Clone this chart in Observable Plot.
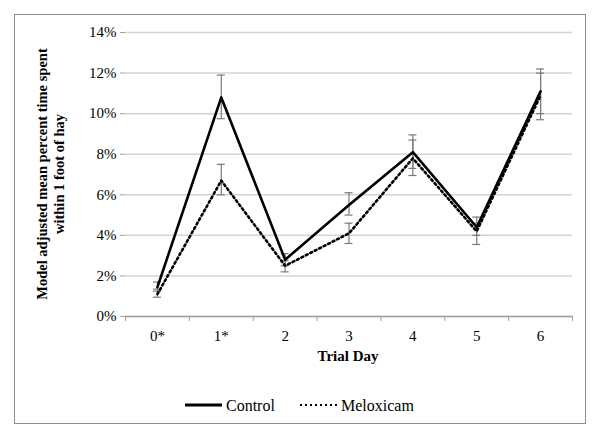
<!DOCTYPE html>
<html><head><meta charset="utf-8">
<script src="https://cdn.jsdelivr.net/npm/d3@7"></script>
<script src="https://cdn.jsdelivr.net/npm/@observablehq/plot@0.6"></script>
<style>
body{margin:0;background:#fff;font-family:serif;}
#wrap{position:relative;width:600px;height:440px;font-family:serif;}
#frame{position:absolute;left:14px;top:14px;width:572px;height:410px;border:1px solid #8c8c8c;box-sizing:border-box;}
#chart{position:absolute;left:0;top:0;}
#legend{position:absolute;left:0;top:388px;}
#ytitle{position:absolute;left:51px;top:174px;transform:translate(-50%,-50%) rotate(-90deg);white-space:nowrap;text-align:center;font-weight:bold;font-size:14.5px;line-height:17px;color:#000;font-family:serif;}
#xtitle{position:absolute;left:348px;top:356px;transform:translate(-50%,-50%);font-weight:bold;font-size:15px;font-family:serif;}
</style></head>
<body>
<div id="wrap">
<div id="frame"></div>
<div id="chart"></div>
<div id="ytitle">Model adjusted mean percent time spent<br>within 1 foot of hay</div>
<div id="xtitle">Trial Day</div>
<div id="legend"></div>
</div>
<script>
const days = ["0*","1*","2","3","4","5","6"];
const control = [1.45, 10.8, 2.8, 5.5, 8.1, 4.4, 11.1];
const controlLow = [1.25, 9.75, 2.5, 5.0, 7.3, 4.0, 10.0];
const controlHigh = [1.7, 11.9, 3.1, 6.1, 8.95, 4.9, 12.2];
const meloxicam = [1.1, 6.7, 2.5, 4.1, 7.8, 4.2, 10.9];
const meloxicamLow = [0.95, 6.0, 2.2, 3.6, 6.95, 3.55, 9.7];
const meloxicamHigh = [1.35, 7.5, 2.75, 4.6, 8.7, 4.6, 12.0];
const yTicks = [0, 2, 4, 6, 8, 10, 12, 14];
const seriesNames = ["Control", "Meloxicam"];

const ctrl = days.map((d, i) => ({i, day: d, v: control[i], lo: controlLow[i], hi: controlHigh[i]}));
const melo = days.map((d, i) => ({i, day: d, v: meloxicam[i], lo: meloxicamLow[i], hi: meloxicamHigh[i]}));
const both = ctrl.concat(melo);
const bounds = d3.range(days.length + 1).map(k => k - 0.5);
const errColor = "#7a7a7a";

const plot = Plot.plot({
  width: 600, height: 380,
  marginLeft: 125, marginRight: 28, marginTop: 32, marginBottom: 64,
  style: "font-family:serif;font-size:15px;background:transparent;color:#000",
  x: {type: "linear", domain: [-0.5, days.length - 0.5]},
  y: {domain: [0, 14]},
  marks: [
    Plot.gridY(yTicks, {stroke: "#d4d4d4", strokeOpacity: 1, strokeWidth: 1.5}),
    Plot.axisY({ticks: yTicks, tickFormat: d => d + "%", tickSize: 5, stroke: "#a0a0a0", tickPadding: 4, label: null, fontSize: 15}),
    Plot.ruleY([0], {stroke: "#a0a0a0", strokeWidth: 1.5}),
    Plot.axisX({ticks: bounds, tickFormat: () => "", tickSize: 5, stroke: "#a0a0a0", label: null}),
    Plot.axisX({ticks: d3.range(days.length), tickFormat: i => days[i], tickSize: 0, tickPadding: 14, label: null, fontSize: 15}),
    Plot.ruleX(both, {x: "i", y1: "lo", y2: "hi", stroke: errColor, strokeWidth: 1.2}),
    Plot.ruleY(both, {x1: "i", x2: "i", y: "lo", insetLeft: -4, insetRight: -4, stroke: errColor, strokeWidth: 1.2}),
    Plot.ruleY(both, {x1: "i", x2: "i", y: "hi", insetLeft: -4, insetRight: -4, stroke: errColor, strokeWidth: 1.2}),
    Plot.line(melo, {x: "i", y: "v", stroke: "#000", strokeWidth: 2.6, strokeDasharray: "2,3"}),
    Plot.line(ctrl, {x: "i", y: "v", stroke: "#000", strokeWidth: 2.6})
  ]
});
document.getElementById("chart").appendChild(plot);

const lg = d3.create("svg").attr("width", 600).attr("height", 34)
  .attr("font-family", "serif").attr("font-size", 16);
const legendX = [185, 300];
seriesNames.forEach((name, k) => {
  const g = lg.append("g").attr("transform", `translate(${legendX[k]},17)`);
  g.append("line").attr("x1", 0).attr("x2", 37).attr("y1", 0).attr("y2", 0)
    .attr("stroke", "#000").attr("stroke-width", k === 0 ? 2.8 : 2)
    .attr("stroke-dasharray", k === 0 ? null : "2,3");
  g.append("text").attr("x", 41).attr("y", 0).attr("dy", "0.35em").attr("fill", "#000").text(name);
});
document.getElementById("legend").appendChild(lg.node());
</script>
</body></html>
